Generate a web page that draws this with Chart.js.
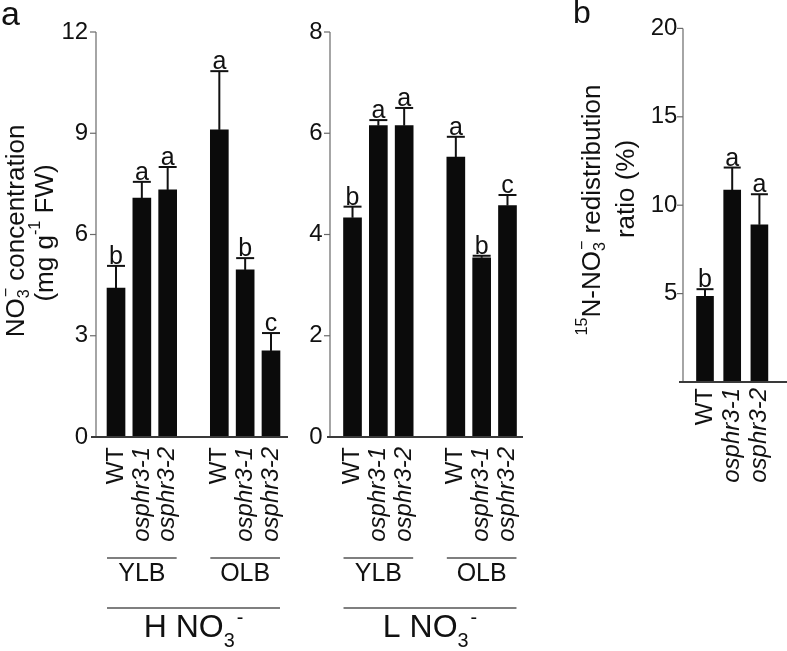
<!DOCTYPE html>
<html>
<head>
<meta charset="utf-8">
<script src="https://cdn.jsdelivr.net/npm/chart.js@4.4.0/dist/chart.umd.min.js"></script>
<style>
  html, body { margin: 0; padding: 0; background: #fff; }
  #wrap { position: relative; width: 787px; height: 651px; overflow: hidden; }
  #wrap canvas { position: absolute; left: 0; top: 0; }
</style>
</head>
<body>
<div id="wrap">
  <canvas id="chart-h" width="787" height="651"></canvas>
  <canvas id="chart-l" width="787" height="651"></canvas>
  <canvas id="chart-b" width="787" height="651"></canvas>
</div>
<script>
'use strict';

// ---- data ----
const catsA  = ['WT', 'osphr3-1', 'osphr3-2', '', 'WT', 'osphr3-1', 'osphr3-2'];
const catsB  = ['WT', 'osphr3-1', 'osphr3-2'];
const leafGroups = ['YLB', 'OLB'];

const hMean = [4.41, 7.08, 7.32, null, 9.10, 4.95, 2.55];
const hErr  = [0.66, 0.48, 0.68, null, 1.74, 0.35, 0.53];
const hSig  = ['b', 'a', 'a', '', 'a', 'b', 'c'];

const lMean = [4.33, 6.15, 6.15, null, 5.53, 3.54, 4.57];
const lErr  = [0.22, 0.11, 0.35, null, 0.40, 0.04, 0.21];
const lSig  = ['b', 'a', 'a', '', 'a', 'b', 'c'];

const bMean = [4.84, 10.85, 8.89];
const bErr  = [0.41, 1.28, 1.73];
const bSig  = ['b', 'a', 'a'];

const FONT = '"Liberation Sans", Arial, Helvetica, sans-serif';
const W = 787, H = 651;

// draws text made of segments (sub/sup/stacked), at current origin
function drawRich(ctx, segs, size, align) {
  const items = [];
  let x = 0, prevX = 0;
  segs.forEach(s => {
    const sz = (s.sub || s.sup) ? size * 0.62 : size;
    const font = (s.italic ? 'italic ' : '') + sz + 'px ' + FONT;
    ctx.font = font;
    const w = ctx.measureText(s.t).width;
    const sx = s.stack ? prevX + 1 : x + (s.gap || 0);
    items.push({ t: s.t, font, sx, dy: s.sub ? size * 0.3 : s.sup ? -size * 0.42 : 0 });
    if (s.stack) x = Math.max(x, prevX + 1 + w);
    else { prevX = sx; x = sx + w; }
  });
  const off = align === 'center' ? -x / 2 : align === 'right' ? -x : 0;
  ctx.textAlign = 'left';
  items.forEach(it => { ctx.font = it.font; ctx.fillText(it.t, it.sx + off, it.dy); });
}

function line(ctx, x1, y1, x2, y2, color, lw) {
  ctx.strokeStyle = color; ctx.lineWidth = lw;
  ctx.beginPath(); ctx.moveTo(x1, y1); ctx.lineTo(x2, y2); ctx.stroke();
}

function decor(cfg) {
  return {
    id: 'decor',
    afterDraw(chart) {
      const ctx = chart.ctx;
      const xs = chart.scales.x, ys = chart.scales.y;
      const y0 = ys.getPixelForValue(0);
      const meta = chart.getDatasetMeta(0);
      ctx.save();
      // y axis line + tick marks
      line(ctx, cfg.axisX, ys.getPixelForValue(cfg.max), cfg.axisX, y0, '#6a6a6a', 1.2);
      ys.ticks.forEach(t => {
        if (t.value === 0) return;
        const py = ys.getPixelForValue(t.value);
        line(ctx, cfg.axisX - 6, py, cfg.axisX, py, '#6a6a6a', 1.2);
      });
      // x axis line
      line(ctx, cfg.xLine[0], y0, cfg.xLine[1], y0, '#3a3a3a', 2);

      // error bars + significance letters
      cfg.mean.forEach((m, i) => {
        if (m === null) return;
        const el = meta.data[i];
        const top = ys.getPixelForValue(m + cfg.err[i]);
        const hw = el.width / 2;
        line(ctx, el.x, el.y, el.x, top, '#111', 2);
        line(ctx, el.x - hw, top, el.x + hw, top, '#111', 2);
        ctx.fillStyle = '#111';
        ctx.font = '25px ' + FONT;
        ctx.textAlign = 'center';
        ctx.textBaseline = 'alphabetic';
        ctx.fillText(cfg.sig[i], el.x, top - 2);
      });

      // rotated genotype labels
      ctx.fillStyle = '#111';
      cfg.labels.forEach((lab, i) => {
        if (!lab) return;
        const px = xs.getPixelForValue(i);
        ctx.save();
        ctx.translate(px, y0 + cfg.labelGap);
        ctx.rotate(-Math.PI / 2);
        ctx.textAlign = 'right';
        ctx.textBaseline = 'middle';
        ctx.font = (lab === 'WT' ? '' : 'italic ') + '24px ' + FONT;
        ctx.fillText(lab, 0, 0);
        ctx.restore();
      });

      // leaf group lines (YLB / OLB) and treatment line
      if (cfg.treatment) {
        const groupsIdx = [[0, 2], [4, 6]];
        ctx.textBaseline = 'alphabetic';
        groupsIdx.forEach((g, k) => {
          const a = meta.data[g[0]], b = meta.data[g[1]];
          const x1 = a.x - a.width / 2, x2 = b.x + b.width / 2;
          line(ctx, x1, 558, x2, 558, '#555', 1.5);
          ctx.fillStyle = '#111';
          ctx.font = '25px ' + FONT;
          ctx.textAlign = 'center';
          ctx.fillText(leafGroups[k], (x1 + x2) / 2, 581);
        });
        const a = meta.data[0], b = meta.data[6];
        const x1 = a.x - a.width / 2, x2 = b.x + b.width / 2;
        line(ctx, x1, 608, x2, 608, '#555', 1.5);
        ctx.save();
        ctx.translate((x1 + x2) / 2, 637);
        ctx.fillStyle = '#111';
        ctx.textBaseline = 'alphabetic';
        drawRich(ctx, [{ t: cfg.treatment + ' NO' }, { t: '3', sub: true }, { t: '-', sup: true, gap: 2 }], 32, 'center');
        ctx.restore();
      }

      if (cfg.extra) cfg.extra(ctx);
      ctx.restore();
    }
  };
}

function rotTitle(ctx, x, y, segs, size) {
  ctx.save();
  ctx.translate(x, y);
  ctx.rotate(-Math.PI / 2);
  ctx.fillStyle = '#111';
  ctx.textBaseline = 'middle';
  drawRich(ctx, segs, size, 'center');
  ctx.restore();
}

function makeChart(id, cfg) {
  return new Chart(document.getElementById(id), {
    type: 'bar',
    data: {
      labels: cfg.labels,
      datasets: [{ data: cfg.mean, backgroundColor: '#0b0b0b', borderWidth: 0, barThickness: cfg.barW }]
    },
    options: {
      responsive: false,
      animation: false,
      devicePixelRatio: 1,
      layout: { padding: { left: 0, right: W - cfg.area[1], top: cfg.area[2], bottom: H - cfg.area[3] } },
      plugins: { legend: { display: false }, tooltip: { enabled: false } },
      scales: {
        x: { display: false, offset: true },
        y: {
          min: 0, max: cfg.max,
          ticks: {
            stepSize: cfg.step, padding: cfg.tickPad, color: '#111',
            font: { family: FONT, size: 24 },
            callback: v => (v === 0 && cfg.hideZero) ? '' : v
          },
          grid: { display: false, drawTicks: false },
          border: { display: false },
          afterFit: s => { s.width = cfg.area[0]; }
        }
      }
    },
    plugins: [decor(cfg)]
  });
}

makeChart('chart-h', {
  labels: catsA, mean: hMean, err: hErr, sig: hSig,
  area: [103.1, 283.9, 32, 437], max: 12, step: 3, tickPad: 15,
  axisX: 96, xLine: [91, 288], barW: 18, labelGap: 10, treatment: 'H',
  extra(ctx) {
    ctx.fillStyle = '#111';
    ctx.textAlign = 'left';
    ctx.textBaseline = 'alphabetic';
    ctx.font = '34px ' + FONT;
    ctx.fillText('a', 1, 25);
    rotTitle(ctx, 17, 231, [{ t: 'NO' }, { t: '3', sub: true }, { t: '−', sup: true, stack: true }, { t: ' concentration' }], 26);
    rotTitle(ctx, 46, 233, [{ t: '(mg g' }, { t: '-1', sup: true }, { t: ' FW)' }], 26);
  }
});

makeChart('chart-l', {
  labels: catsA, mean: lMean, err: lErr, sig: lSig,
  area: [339.6, 520.4, 32, 437], max: 8, step: 2, tickPad: 17,
  axisX: 330, xLine: [327, 523], barW: 18, labelGap: 10, treatment: 'L'
});

makeChart('chart-b', {
  labels: catsB, mean: bMean, err: bErr, sig: bSig,
  area: [691.4, 773, 28, 382], max: 20, step: 5, tickPad: 14, hideZero: true,
  axisX: 683, xLine: [679, 787], barW: 17, labelGap: 6,
  extra(ctx) {
    ctx.fillStyle = '#111';
    ctx.textAlign = 'left';
    ctx.textBaseline = 'alphabetic';
    ctx.font = '32px ' + FONT;
    ctx.fillText('b', 573, 23);
    rotTitle(ctx, 593, 210, [{ t: '15', sup: true }, { t: 'N-NO' }, { t: '3', sub: true }, { t: '−', sup: true, stack: true }, { t: ' redistribution' }], 26);
    rotTitle(ctx, 627, 189, [{ t: 'ratio (%)' }], 26);
  }
});
</script>
</body>
</html>
